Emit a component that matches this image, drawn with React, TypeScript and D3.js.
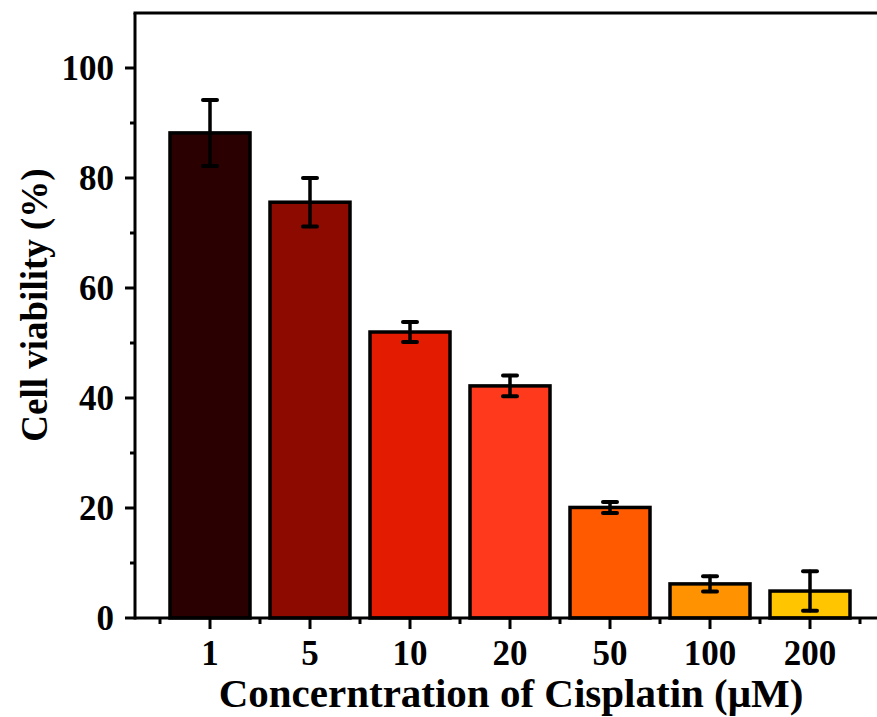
import React, { useEffect, useRef } from 'react';
import * as d3 from 'd3';

const categories = ['1', '5', '10', '20', '50', '100', '200'];
const viability = [88.2, 75.6, 52.0, 42.2, 20.1, 6.2, 4.9];
const errors = [6.0, 4.4, 1.8, 1.9, 1.0, 1.4, 3.6];
const barColors = ['#2b0000', '#8c0a00', '#e31b00', '#ff3a1c', '#ff5a00', '#ff9200', '#ffc600'];
const yTicks = [0, 20, 40, 60, 80, 100];
const yMinorTicks = [10, 30, 50, 70, 90];

const W = 877;
const H = 717;
const FONT = '"Liberation Serif", "Times New Roman", serif';

const App = () => {
  const ref = useRef<SVGSVGElement>(null);

  useEffect(() => {
    const svg = d3.select(ref.current);
    svg.selectAll('*').remove();

    const left = 135;
    const bottom = 618;
    const top = 13;

    const y = d3.scaleLinear().domain([0, 110]).range([bottom, top]);
    const x = d3.scaleBand().domain(categories).range([160, 860]).paddingInner(0.2).paddingOuter(0.1);

    const data = categories.map((c, i) => ({ c, v: viability[i], e: errors[i], color: barColors[i] }));

    // bars
    svg
      .append('g')
      .selectAll('rect')
      .data(data)
      .enter()
      .append('rect')
      .attr('x', d => x(d.c)!)
      .attr('y', d => y(d.v))
      .attr('width', x.bandwidth())
      .attr('height', d => bottom - y(d.v))
      .attr('fill', d => d.color)
      .attr('stroke', '#000')
      .attr('stroke-width', 3.5);

    // error bars
    const eb = svg.append('g').attr('stroke', '#000').attr('stroke-width', 3.5).attr('stroke-linecap', 'round');
    data.forEach(d => {
      const cx = x(d.c)! + x.bandwidth() / 2;
      eb.append('line').attr('x1', cx).attr('x2', cx).attr('y1', y(d.v + d.e)).attr('y2', y(d.v - d.e));
      [d.v + d.e, d.v - d.e].forEach(v => {
        eb.append('line').attr('x1', cx - 7).attr('x2', cx + 7).attr('y1', y(v)).attr('y2', y(v)).attr('stroke-width', 4);
      });
    });

    // axes frame
    const ax = svg.append('g').attr('stroke', '#000').attr('stroke-width', 3).attr('fill', 'none');
    ax.append('line').attr('x1', left).attr('x2', W + 5).attr('y1', bottom).attr('y2', bottom);
    ax.append('line').attr('x1', left).attr('x2', left).attr('y1', top).attr('y2', bottom + 1.5);
    ax.append('line').attr('x1', left - 1.5).attr('x2', W + 5).attr('y1', top).attr('y2', top);

    // y ticks
    yTicks.forEach(t => {
      ax.append('line').attr('x1', left - 10).attr('x2', left).attr('y1', y(t)).attr('y2', y(t));
    });
    yMinorTicks.forEach(t => {
      ax.append('line').attr('x1', left - 5).attr('x2', left).attr('y1', y(t)).attr('y2', y(t));
    });

    // x ticks
    categories.forEach(c => {
      const cx = x(c)! + x.bandwidth() / 2;
      ax.append('line').attr('x1', cx).attr('x2', cx).attr('y1', bottom).attr('y2', bottom + 11);
    });
    d3.range(categories.length + 1).forEach(i => {
      const mx = 160 + i * x.step();
      ax.append('line').attr('x1', mx).attr('x2', mx).attr('y1', bottom).attr('y2', bottom + 6);
    });

    const txt = svg.append('g').attr('font-family', FONT).attr('font-weight', 'bold').attr('fill', '#000');

    yTicks.forEach(t => {
      txt
        .append('text')
        .attr('x', left - 21)
        .attr('y', y(t))
        .attr('dy', '0.35em')
        .attr('text-anchor', 'end')
        .attr('font-size', 35)
        .text(t);
    });

    categories.forEach(c => {
      txt
        .append('text')
        .attr('x', x(c)! + x.bandwidth() / 2)
        .attr('y', 665)
        .attr('text-anchor', 'middle')
        .attr('font-size', 35)
        .text(c);
    });

    txt
      .append('text')
      .attr('x', 511)
      .attr('y', 707)
      .attr('text-anchor', 'middle')
      .attr('font-size', 41)
      .text('Concerntration of Cisplatin (\u03bcM)');

    txt
      .append('text')
      .attr('transform', 'translate(47,305) rotate(-90)')
      .attr('text-anchor', 'middle')
      .attr('font-size', 37)
      .text('Cell viability (%)');

    return () => {
      svg.selectAll('*').remove();
    };
  }, []);

  return (
    <svg
      ref={ref}
      width={W}
      height={H}
      style={{ position: 'absolute', left: 0, top: 0, background: '#fff' }}
    />
  );
};

export default App;
